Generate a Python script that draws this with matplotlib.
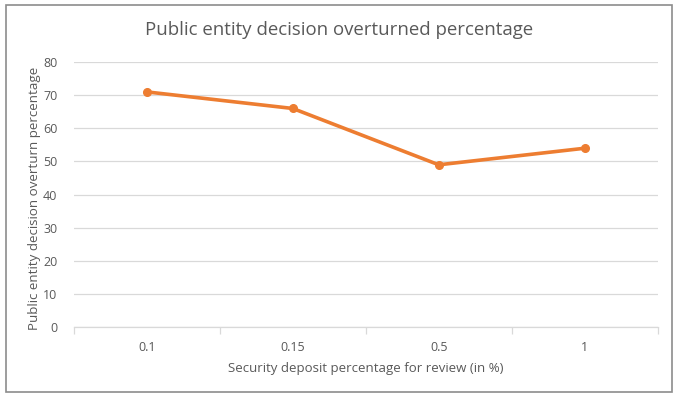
import matplotlib
matplotlib.use("Agg")

import matplotlib.pyplot as plt
from matplotlib.patches import Rectangle

categories = ["0.1", "0.15", "0.5", "1"]
overturned = [71, 66, 49, 54]

plt.rcParams["font.family"] = ["Open Sans", "DejaVu Sans"]
text_grey = "#595959"

fig = plt.figure(figsize=(6.78, 3.98), dpi=100)
ax = fig.add_axes([0.109, 0.178, 0.861, 0.666])

# outer frame like the spreadsheet chart box
fig.patches.append(Rectangle((0.009, 0.015), 0.982, 0.972, transform=fig.transFigure,
                             fill=False, edgecolor="#8c8c8c", linewidth=1.2))

x = list(range(len(categories)))
ax.plot(x, overturned, color="#ED7D31", linewidth=2.6, marker="o", markersize=5.5)

ax.set_xlim(-0.5, len(categories) - 0.5)
ax.set_ylim(0, 80)
ax.set_yticks(range(0, 81, 10))
ax.set_xticks(x)
ax.set_xticklabels(categories)
ax.set_xticks([i - 0.5 for i in range(len(categories) + 1)], minor=True)

ax.grid(axis="y", color="#d9d9d9", linewidth=0.9)
ax.set_axisbelow(True)
for side in ["top", "right", "left"]:
    ax.spines[side].set_visible(False)
ax.spines["bottom"].set_color("#d9d9d9")
ax.spines["bottom"].set_linewidth(0.9)

ax.tick_params(axis="y", length=0, labelsize=9, labelcolor=text_grey, pad=12)
ax.tick_params(axis="x", which="major", length=0, labelsize=9, labelcolor=text_grey, pad=10)
ax.tick_params(axis="x", which="minor", length=5, color="#d9d9d9", width=0.9)

fig.text(0.5, 0.925, "Public entity decision overturned percentage", fontsize=13.4,
         color=text_grey, ha="center", va="center")
ax.set_xlabel("Security deposit percentage for review (in %)", fontsize=9.5,
              color=text_grey, labelpad=6)
ax.set_ylabel("Public entity decision overturn percentage", fontsize=9.6,
              color=text_grey)
ax.yaxis.set_label_coords(-0.057, 0.485)

plt.savefig("out.png", dpi=100)
plt.close()
